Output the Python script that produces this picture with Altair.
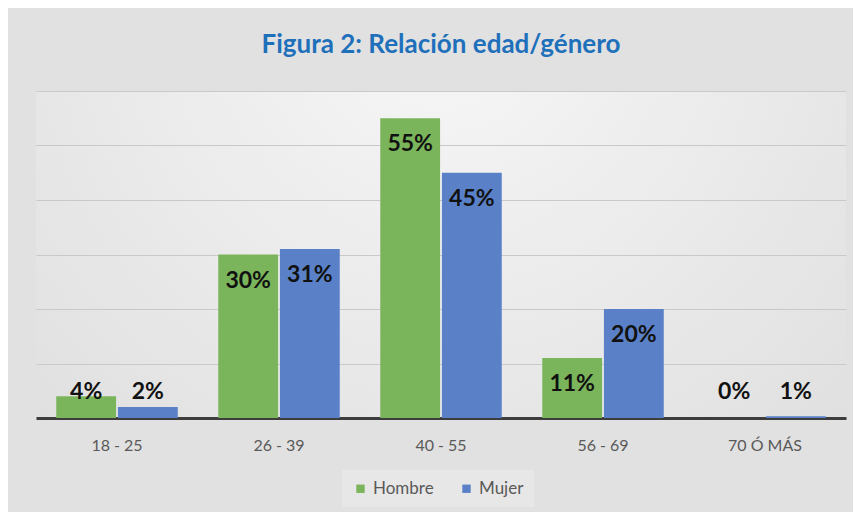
import altair as alt
import pandas as pd

categorias = ["18 - 25", "26 - 39", "40 - 55", "56 - 69", "70 Ó MÁS"]
series = ["Hombre", "Mujer"]
hombre = [4, 30, 55, 11, 0]
mujer = [2, 31, 45, 20, 0.3]
hombre_etiquetas = ["4%", "30%", "55%", "11%", "0%"]
mujer_etiquetas = ["2%", "31%", "45%", "20%", "1%"]
colores = ["#7bb55b", "#5a81c8"]
ticks_y = [0, 10, 20, 30, 40, 50, 60]

rows = []
for serie, vals, labs in [("Hombre", hombre, hombre_etiquetas), ("Mujer", mujer, mujer_etiquetas)]:
    for c, v, l in zip(categorias, vals, labs):
        rows.append({"edad": c, "genero": serie, "valor": v, "etiqueta": l})
df = pd.DataFrame(rows)

base = alt.Chart(df).encode(
    x=alt.X(
        "edad:N",
        sort=categorias,
        scale=alt.Scale(paddingInner=0.25, paddingOuter=0.125),
        axis=alt.Axis(
            title=None, labelAngle=0, ticks=False, domainColor="#3d3d3d", domainWidth=3,
            labelFont="Lato", labelFontSize=16, labelColor="#595959", labelPadding=19, grid=False,
        ),
    ),
    xOffset=alt.XOffset("genero:N", sort=series, scale=alt.Scale(paddingInner=0.03)),
)

bars = base.mark_bar().encode(
    y=alt.Y(
        "valor:Q",
        scale=alt.Scale(domain=[0, 60]),
        axis=alt.Axis(
            title=None, labels=False, ticks=False, domain=False, values=ticks_y,
            gridColor="#c9c9c9", gridWidth=1,
        ),
    ),
    color=alt.Color(
        "genero:N",
        sort=series,
        scale=alt.Scale(domain=series, range=colores),
        legend=alt.Legend(
            title=None, orient="none", legendX=306, legendY=379, direction="horizontal",
            symbolType="square", symbolSize=70, symbolStrokeWidth=0, labelFont="Lato",
            labelFontSize=17, labelColor="#595959", fillColor="#e7e7e7", padding=10,
            columnPadding=24,
        ),
    ),
)

text = base.transform_calculate(pos="max(datum.valor - 4.8, 4.8)").mark_text(
    font="Lato", fontWeight="bold", fontSize=23, color="#111111", baseline="middle"
).encode(
    y=alt.Y("pos:Q"),
    text="etiqueta:N",
)

grad = ("{gradient: 'radial', x1: 0.5, y1: 0.2, r1: 0, x2: 0.5, y2: 0.2, r2: 0.9, "
        "stops: [{offset: 0, color: '#f7f7f7'}, {offset: 1, color: '#dadada'}]}")

chart = alt.layer(bars, text).properties(
    width=810,
    height=327,
    padding={"left": 28, "top": 24, "right": 7, "bottom": 5},
    background="#e1e1e1",
    title=alt.Title(
        "Figura 2: Relación edad/género", font="Lato", fontSize=26, fontWeight="bold",
        color="#1f70bb", offset=33,
    ),
).configure_view(stroke=None, fill={"expr": grad})

chart.save("out.html", embed_options={"renderer": "svg", "actions": False})
